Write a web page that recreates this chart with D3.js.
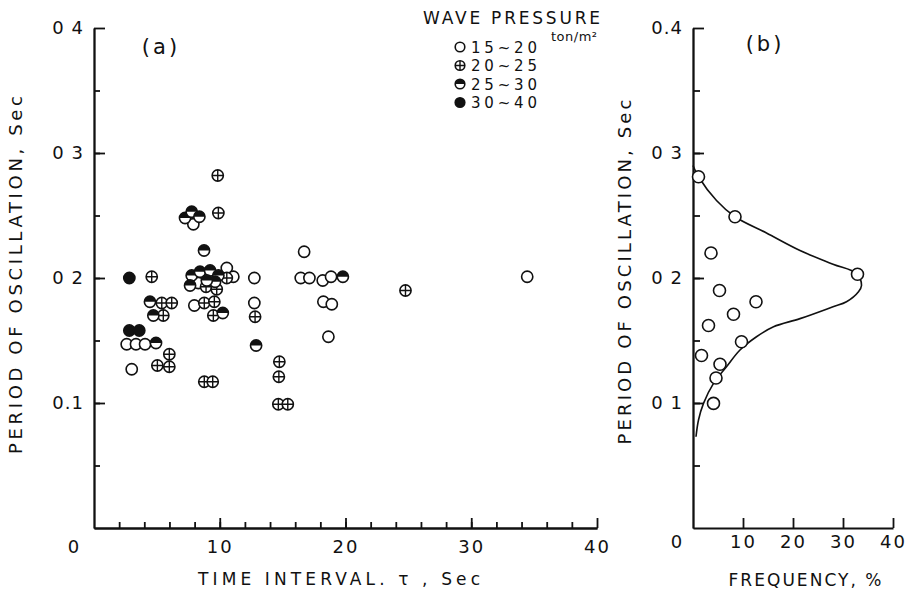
<!DOCTYPE html>
<html>
<head>
<meta charset="utf-8">
<script src="https://cdn.jsdelivr.net/npm/d3@7"></script>
<style>
  body { margin: 0; background: #fff; }
  svg text { font-family: "DejaVu Sans", sans-serif; fill: #111; }
</style>
</head>
<body>
<div id="chart"></div>
<script>
// ---- data ----
// panel (a): [time interval (sec), period of oscillation (sec)]
var open15to20 = [
  [3.0, 0.127], [2.6, 0.147], [3.34, 0.147], [4.06, 0.147], [7.98, 0.178],
  [10.56, 0.208], [11.08, 0.201], [12.75, 0.200], [12.75, 0.180],
  [16.71, 0.221], [16.44, 0.200], [17.13, 0.200], [18.19, 0.198], [18.85, 0.201],
  [18.24, 0.181], [18.91, 0.179], [18.64, 0.153], [34.45, 0.201],
  [7.9, 0.243], [8.3, 0.196]
];
var crossed20to25 = [
  [4.59, 0.201], [9.84, 0.282], [9.89, 0.252], [5.39, 0.180], [6.18, 0.180],
  [5.51, 0.170], [8.77, 0.180], [9.57, 0.181], [9.49, 0.170], [12.81, 0.169],
  [8.91, 0.193], [9.76, 0.191], [10.56, 0.200], [5.99, 0.139], [5.04, 0.130],
  [5.99, 0.129], [8.77, 0.117], [9.44, 0.117], [14.74, 0.133], [14.7, 0.121],
  [14.66, 0.099], [15.41, 0.099], [24.77, 0.190]
];
var half25to30 = [
  [4.45, 0.181], [4.72, 0.170], [4.93, 0.148], [7.24, 0.248], [7.77, 0.253],
  [8.38, 0.249], [8.75, 0.222], [7.77, 0.202], [8.43, 0.205], [9.23, 0.206],
  [9.89, 0.202], [7.64, 0.194], [9.63, 0.197], [8.97, 0.198], [10.24, 0.172],
  [12.89, 0.146], [19.79, 0.201]
];
var filled30to40 = [
  [2.81, 0.200], [2.81, 0.158], [3.6, 0.158]
];

// panel (b): frequency (%) vs period (sec)
var freqPoints = [1.1, 8.4, 3.6, 5.3, 32.9, 12.6, 8.1, 3.1, 9.7, 1.7, 5.4, 4.6, 4.1];
var periodPoints = [0.281, 0.249, 0.220, 0.190, 0.203, 0.181, 0.171, 0.162, 0.149, 0.138, 0.131, 0.120, 0.0997];

var curveFreq = [0, 1.1, 4.7, 8.4, 14.7, 21.4, 28, 32.7, 33.7, 33.1, 30.7, 28, 21.4, 16.1, 12.7, 9.4, 6.7, 4.1, 2.1, 1.1, 0.6];
var curvePeriod = [0.290, 0.281, 0.262, 0.249, 0.236, 0.222, 0.211, 0.2035, 0.194, 0.189, 0.181, 0.177, 0.1675, 0.161, 0.153, 0.1424, 0.129, 0.1157, 0.0997, 0.0864, 0.073];

var xTickValues = [0, 10, 20, 30, 40];
var xTickLabels = ["0", "10", "20", "30", "40"];
var yTickValues = [0.1, 0.2, 0.3, 0.4];
var yTickLabelsA = ["0.1", "0 2", "0 3", "0 4"];
var yTickLabelsB = ["0 1", "0 2", "0 3", "0.4"];

var legendLabels = ["15~20", "20~25", "25~30", "30~40"];
var legendKinds = ["open", "crossed", "half", "filled"];

// ---- layout ----
var svgWidth = 913;
var svgHeight = 595;

var svg = d3.select("#chart")
  .append("svg")
  .attr("width", svgWidth)
  .attr("height", svgHeight);

var xA = d3.scaleLinear().domain([0, 40]).range([94, 597]);
var yA = d3.scaleLinear().domain([0, 0.4]).range([528, 28]);
var xB = d3.scaleLinear().domain([0, 40]).range([693, 893]);
var yB = d3.scaleLinear().domain([0, 0.4]).range([528, 28]);

// draws one of the four symbol types centred on the group's origin
function marker(g, kind, r) {
  g.append("circle")
    .attr("r", r)
    .attr("fill", kind === "filled" ? "#111" : "#fff")
    .attr("stroke", "#111")
    .attr("stroke-width", 1.6);
  if (kind === "half") {
    g.append("path")
      .attr("d", `M${-r},0 A${r},${r} 0 0 1 ${r},0 Z`)
      .attr("fill", "#111");
  }
  if (kind === "crossed") {
    g.append("path")
      .attr("d", `M${-r},0H${r}M0,${-r}V${r}`)
      .attr("stroke", "#111")
      .attr("stroke-width", 1.4);
  }
}

function styleAxis(g) {
  g.selectAll("path, line").attr("stroke", "#111").attr("stroke-width", 1.8);
  g.attr("font-size", null).attr("font-family", null);
}

// ---- panel (a) axes ----
var minorY = d3.range(1, 8).map(d => d * 0.05);
svg.append("g")
  .attr("transform", `translate(${xA(0)},0)`)
  .call(d3.axisLeft(yA).tickValues(minorY).tickSize(-6).tickSizeOuter(0).tickFormat(""))
  .call(styleAxis);

svg.append("g")
  .attr("transform", `translate(${xA(0)},0)`)
  .call(d3.axisLeft(yA).tickValues(yTickValues).tickSize(-11).tickSizeOuter(0).tickPadding(10)
    .tickFormat((d, i) => yTickLabelsA[i]))
  .call(styleAxis)
  .selectAll("text").style("font-size", "18px").style("letter-spacing", "1px");

svg.append("g")
  .attr("transform", `translate(0,${yA(0)})`)
  .call(d3.axisBottom(xA).tickValues(d3.range(2, 40, 2)).tickSize(-6).tickSizeOuter(0).tickFormat(""))
  .call(styleAxis);

var xAxisA = svg.append("g")
  .attr("transform", `translate(0,${yA(0)})`)
  .call(d3.axisBottom(xA).tickValues(xTickValues).tickSize(-10).tickSizeOuter(0).tickPadding(12)
    .tickFormat((d, i) => xTickLabels[i]))
  .call(styleAxis);
xAxisA.selectAll("text").style("font-size", "18px").style("letter-spacing", "2px");
xAxisA.selectAll(".tick").filter(d => d === 0).select("text").attr("dx", -20);
xAxisA.selectAll(".tick").filter(d => d === 0).select("line").remove();

// ---- panel (b) axes ----
svg.append("g")
  .attr("transform", `translate(${xB(0)},0)`)
  .call(d3.axisLeft(yB).tickValues(minorY).tickSize(-7).tickSizeOuter(0).tickFormat(""))
  .call(styleAxis);

svg.append("g")
  .attr("transform", `translate(${xB(0)},0)`)
  .call(d3.axisLeft(yB).tickValues(yTickValues).tickSize(-11).tickSizeOuter(0).tickPadding(10)
    .tickFormat((d, i) => yTickLabelsB[i]))
  .call(styleAxis)
  .selectAll("text").style("font-size", "18px").style("letter-spacing", "1px");

var xAxisB = svg.append("g")
  .attr("transform", `translate(0,${yB(0)})`)
  .call(d3.axisBottom(xB).tickValues(xTickValues).tickSize(-10).tickSizeOuter(0).tickPadding(7)
    .tickFormat((d, i) => xTickLabels[i]))
  .call(styleAxis);
xAxisB.selectAll("text").style("font-size", "18px").style("letter-spacing", "2px");
xAxisB.selectAll(".tick").filter(d => d === 0).select("text").attr("dx", -16);
xAxisB.selectAll(".tick").filter(d => d === 0).select("line").remove();

// ---- panel (a) points ----
var seriesA = [
  { kind: "open", pts: open15to20 },
  { kind: "crossed", pts: crossed20to25 },
  { kind: "half", pts: half25to30 },
  { kind: "filled", pts: filled30to40 }
];
seriesA.forEach(function(s) {
  svg.append("g").selectAll("g")
    .data(s.pts)
    .enter()
    .append("g")
    .attr("transform", d => `translate(${xA(d[0])},${yA(d[1])})`)
    .each(function() { marker(d3.select(this), s.kind, 5.6); });
});

// ---- panel (b) curve and points ----
var curveData = curveFreq.map((f, i) => [f, curvePeriod[i]]);
svg.append("path")
  .datum(curveData)
  .attr("fill", "none")
  .attr("stroke", "#111")
  .attr("stroke-width", 1.6)
  .attr("d", d3.line().x(d => xB(d[0])).y(d => yB(d[1])).curve(d3.curveCatmullRom));

svg.append("g").selectAll("g")
  .data(freqPoints.map((f, i) => [f, periodPoints[i]]))
  .enter()
  .append("g")
  .attr("transform", d => `translate(${xB(d[0])},${yB(d[1])})`)
  .each(function() { marker(d3.select(this), "open", 6); });

// ---- titles and labels ----
svg.append("text").attr("x", 161).attr("y", 54).attr("text-anchor", "middle")
  .style("font-size", "21px").style("letter-spacing", "3px").text("(a)");
svg.append("text").attr("x", 765).attr("y", 51).attr("text-anchor", "middle")
  .style("font-size", "21px").style("letter-spacing", "3px").text("(b)");

svg.append("text").attr("x", 339).attr("y", 585).attr("text-anchor", "middle")
  .attr("textLength", 282).attr("lengthAdjust", "spacing")
  .style("font-size", "17px").text("TIME INTERVAL. τ , Sec");
svg.append("text").attr("x", 805).attr("y", 586).attr("text-anchor", "middle")
  .attr("textLength", 153).attr("lengthAdjust", "spacing")
  .style("font-size", "17px").text("FREQUENCY, %");

svg.append("text").attr("transform", "translate(22,275) rotate(-90)").attr("text-anchor", "middle")
  .attr("textLength", 358).attr("lengthAdjust", "spacing")
  .style("font-size", "18px").text("PERIOD OF OSCILLATION, Sec");
svg.append("text").attr("transform", "translate(631,272) rotate(-90)").attr("text-anchor", "middle")
  .attr("textLength", 345).attr("lengthAdjust", "spacing")
  .style("font-size", "18px").text("PERIOD OF OSCILLATION, Sec");

// ---- legend ----
svg.append("text").attr("x", 423).attr("y", 24)
  .attr("textLength", 177).attr("lengthAdjust", "spacing")
  .style("font-size", "17px").text("WAVE PRESSURE");

var legend = svg.append("g").selectAll("g")
  .data(legendLabels)
  .enter()
  .append("g")
  .attr("transform", (d, i) => `translate(460,${47 + i * 18.5})`);
legend.each(function(d, i) { marker(d3.select(this), legendKinds[i], 4.8); });
legend.append("text")
  .attr("x", 11).attr("y", 5.5)
  .attr("textLength", 66).attr("lengthAdjust", "spacing")
  .style("font-size", "15px")
  .text(d => d);

svg.append("text").attr("x", 551).attr("y", 41)
  .attr("textLength", 46).attr("lengthAdjust", "spacing")
  .style("font-size", "13px").text("ton/m²");
</script>
</body>
</html>
